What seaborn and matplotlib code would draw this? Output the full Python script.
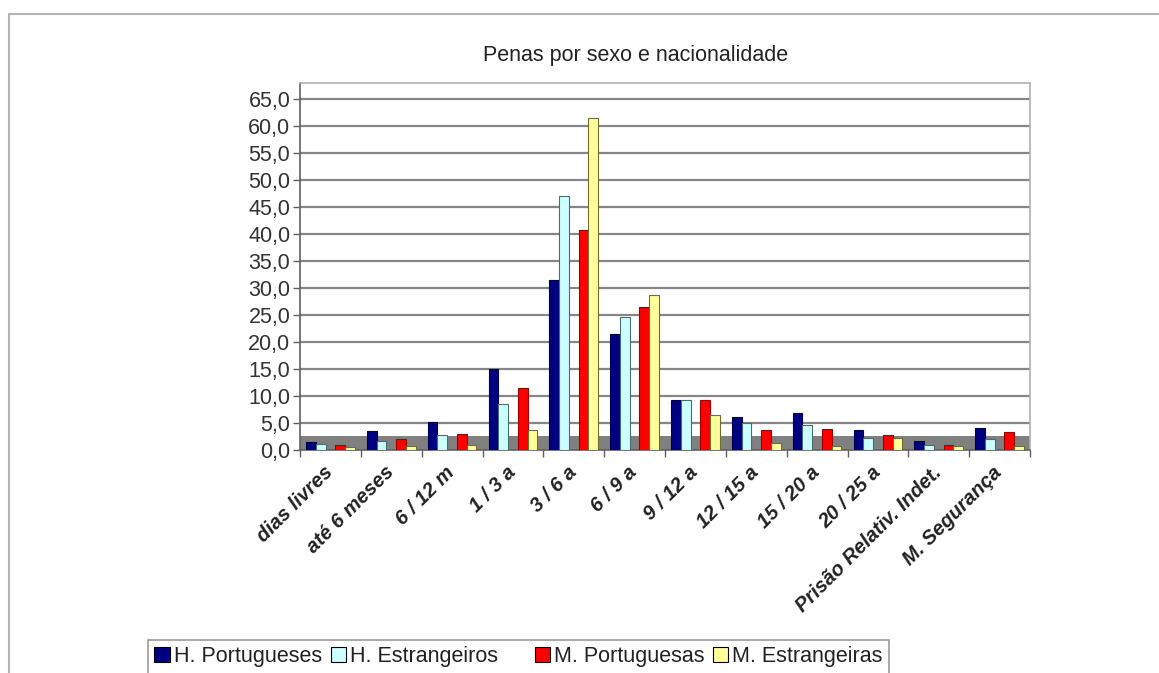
import matplotlib
matplotlib.use("Agg")
import matplotlib.pyplot as plt
import matplotlib.ticker as mticker
import matplotlib.transforms as mtransforms
from matplotlib.patches import Patch
from matplotlib.lines import Line2D
import numpy as np
import pandas as pd
import seaborn as sns

# values (percent)
categories = ["dias livres", "até 6 meses", "6 / 12 m", "1 / 3 a", "3 / 6 a",
              "6 / 9 a", "9 / 12 a", "12 / 15 a", "15 / 20 a", "20 / 25 a",
              "Prisão Relativ. Indet.", "M. Segurança"]
h_portugueses = [1.4, 3.6, 5.2, 15.1, 31.5, 21.5, 9.3, 6.2, 6.8, 3.7, 1.6, 4.0]
h_estrangeiros = [1.1, 1.7, 2.8, 8.6, 47.0, 24.7, 9.3, 5.0, 4.6, 2.2, 1.0, 2.0]
m_portuguesas = [0.9, 2.0, 3.0, 11.4, 40.8, 26.5, 9.3, 3.7, 3.9, 2.8, 0.9, 3.4]
m_estrangeiras = [0.6, 0.8, 1.0, 3.7, 61.5, 28.7, 6.5, 1.3, 0.7, 2.2, 0.7, 0.8]

series = {
    "H. Portugueses": h_portugueses,
    "H. Estrangeiros": h_estrangeiros,
    "M. Portuguesas": m_portuguesas,
    "M. Estrangeiras": m_estrangeiras,
}
colors = {
    "H. Portugueses": "#000080",
    "H. Estrangeiros": "#ccffff",
    " ": "#ffffff",
    "M. Portuguesas": "#ff0000",
    "M. Estrangeiras": "#ffff99",
}
edges = {
    "H. Portugueses": "#000050",
    "H. Estrangeiros": "#4a6e6e",
    "M. Portuguesas": "#a00000",
    "M. Estrangeiras": "#6e6e30",
}
# empty level keeps the gap between the men and women pairs
hue_order = ["H. Portugueses", "H. Estrangeiros", " ", "M. Portuguesas", "M. Estrangeiras"]

rows = []
for name, vals in series.items():
    for cat, v in zip(categories, vals):
        rows.append({"categoria": cat, "serie": name, "valor": v})
df = pd.DataFrame(rows)

sns.set_theme(style="white")
plt.rcParams["font.family"] = ["Liberation Sans", "DejaVu Sans"]

W, H = 1159, 673
fig = plt.figure(figsize=(W / 100, H / 100), dpi=100)
ax = fig.add_axes([300 / W, (H - 450) / H, 730 / W, 367 / H])

ax.axhspan(0, 2.6, color="#808080", zorder=0.5, lw=0)
sns.barplot(data=df, x="categoria", y="valor", hue="serie", hue_order=hue_order,
            order=categories, palette=colors, width=0.8, legend=False,
            saturation=1, ax=ax, zorder=3)

for patch in ax.patches:
    fc = matplotlib.colors.to_hex(patch.get_facecolor())
    for name, c in colors.items():
        if c == fc and name in edges:
            patch.set_edgecolor(edges[name])
            patch.set_linewidth(0.8)

ax.set_ylim(0, 68)
ax.set_xlim(-0.5, len(categories) - 0.5)
ax.set_yticks(np.arange(0, 66, 5))
ax.yaxis.set_major_formatter(mticker.FuncFormatter(lambda v, p: f"{v:.1f}".replace(".", ",")))
ax.yaxis.grid(True, color="#868686", lw=1.6, zorder=0)
ax.set_axisbelow(True)
ax.tick_params(axis="y", which="major", left=True, length=5, width=1, color="#606060",
               labelsize=15.5, labelcolor="#333333", pad=2)

ax.set_xticks(np.arange(len(categories)))
ax.set_xticks(np.arange(len(categories) + 1) - 0.5, minor=True)
ax.tick_params(axis="x", which="major", length=0, pad=9)
ax.tick_params(axis="x", which="minor", bottom=True, length=5, width=1, color="#606060")
ax.set_xticklabels(categories, rotation=45, ha="right", rotation_mode="anchor",
                   fontsize=14.5, fontweight="bold", fontstyle="italic", color="#222222")
shift = mtransforms.ScaledTranslation(-7 / 100, 0, fig.dpi_scale_trans)
for lbl in ax.get_xticklabels():
    lbl.set_transform(lbl.get_transform() + shift)
ax.set_xlabel("")
ax.set_ylabel("")

for side in ["top", "right", "left", "bottom"]:
    ax.spines[side].set_visible(True)
    ax.spines[side].set_color("#b0b0b0")
    ax.spines[side].set_linewidth(1.2)
ax.spines["left"].set_color("#606060")
ax.spines["bottom"].set_color("#606060")

fig.text(636 / W, 1 - 55 / H, "Penas por sexo e nacionalidade", ha="center", va="center",
         fontsize=15.5, color="#222222")

# outer chart border (top and left only are visible)
fig.add_artist(Line2D([9 / W, 9 / W], [0, 1 - 14 / H], transform=fig.transFigure,
                      color="#b4b4b4", lw=1.5))
fig.add_artist(Line2D([9 / W, 1], [1 - 14 / H, 1 - 14 / H], transform=fig.transFigure,
                      color="#b4b4b4", lw=1.5))

handles = [Patch(facecolor=colors[n], edgecolor="#000000", lw=0.8) for n in hue_order]
handles[2] = Patch(facecolor="none", edgecolor="none")
labels = [n if n.strip() else "" for n in hue_order]
leg = fig.legend(handles, labels, ncol=5, loc="upper left",
                 bbox_to_anchor=(148 / W, 1 - 640 / H), frameon=True, fancybox=False,
                 fontsize=15.5, handlelength=0.7, handleheight=0.7, handletextpad=0.2,
                 columnspacing=0.4, borderpad=0.3, borderaxespad=0)
leg.get_frame().set_edgecolor("#808080")
leg.get_frame().set_linewidth(1.2)
for t in leg.get_texts():
    t.set_color("#222222")

fig.savefig("out.png", dpi=100)
